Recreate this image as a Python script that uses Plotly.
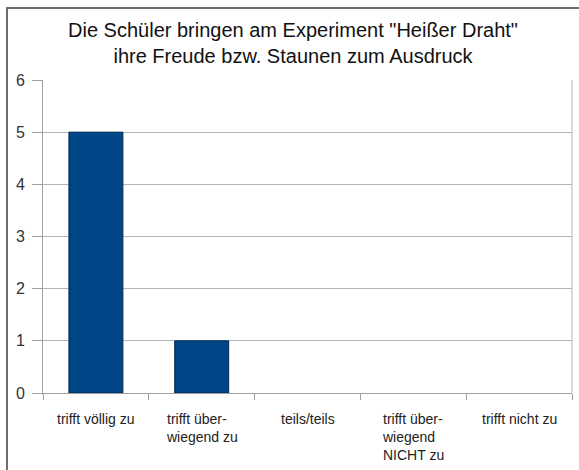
import plotly.graph_objects as go

# Survey answers and how many pupils chose each one
categories = [
    "trifft völlig zu",
    "trifft über-<br>wiegend zu",
    "teils/teils",
    "trifft über-<br>wiegend<br>NICHT zu",
    "trifft nicht zu",
]
counts = [5, 1, 0, 0, 0]
y_ticks = [0, 1, 2, 3, 4, 5, 6]

title_text = ("Die Schüler bringen am Experiment \"Heißer Draht\"<br>"
              "ihre Freude bzw. Staunen zum Ausdruck")

W, H = 579, 470
L, R, T, B = 43, 7, 80, 77
FONT = "Liberation Sans, Arial, sans-serif"

fig = go.Figure()
fig.add_trace(go.Bar(
    x=list(range(len(categories))),
    y=counts,
    width=0.51,
    marker=dict(
        color="#004586",
        # outline only on bars that have a height
        line=dict(color="#002a52", width=[1 if c > 0 else 0 for c in counts]),
    ),
    showlegend=False,
))

# Category labels below the axis, lines left-aligned inside each block
for i, label in enumerate(categories):
    fig.add_annotation(
        x=i, xref="x", y=-0.05, yref="paper",
        text=label, showarrow=False, align="left",
        xanchor="center", yanchor="top",
        font=dict(family=FONT, size=14, color="#222222"),
    )

pw = W - L - R
ph = H - T - B
# Outer chart frame (runs off the right and bottom edges)
fig.add_shape(
    type="rect", xref="paper", yref="paper",
    x0=(7 - L) / pw, x1=(W + 5 - L) / pw,
    y0=-(B + 5) / ph, y1=(H - 8 - B) / ph,
    line=dict(color="#6e6e6e", width=2), fillcolor="rgba(0,0,0,0)", layer="below",
)

fig.update_layout(
    width=W, height=H,
    margin=dict(l=L, r=R, t=T, b=B),
    paper_bgcolor="white", plot_bgcolor="white",
    title=dict(
        text=title_text, x=293 / W, xref="container", xanchor="center",
        y=1 - 37 / H, yref="container", yanchor="middle",
        font=dict(family=FONT, size=20, color="#111111"),
    ),
    xaxis=dict(
        range=[-0.5, len(categories) - 0.5],
        tickvals=[i - 0.5 for i in range(len(categories) + 1)],
        ticktext=[""] * (len(categories) + 1),
        ticks="outside", ticklen=6, tickcolor="#a0a0a0", tickwidth=1,
        showgrid=False, showline=True, linecolor="#a0a0a0", linewidth=1,
        mirror=False, zeroline=False,
    ),
    yaxis=dict(
        range=[0, 6], tickvals=y_ticks,
        ticks="outside", ticklen=10, tickcolor="#a0a0a0", tickwidth=1,
        showgrid=True, gridcolor="#b3b3b3", gridwidth=1,
        showline=True, linecolor="#a0a0a0", linewidth=1,
        zeroline=False, ticklabelstandoff=4,
        tickfont=dict(family=FONT, size=16, color="#333333"),
    ),
)

# Right edge of the plot area
fig.add_shape(
    type="line", xref="paper", yref="paper", x0=1, x1=1, y0=0, y1=1,
    line=dict(color="#b3b3b3", width=1),
)

fig.write_html("out.html")
